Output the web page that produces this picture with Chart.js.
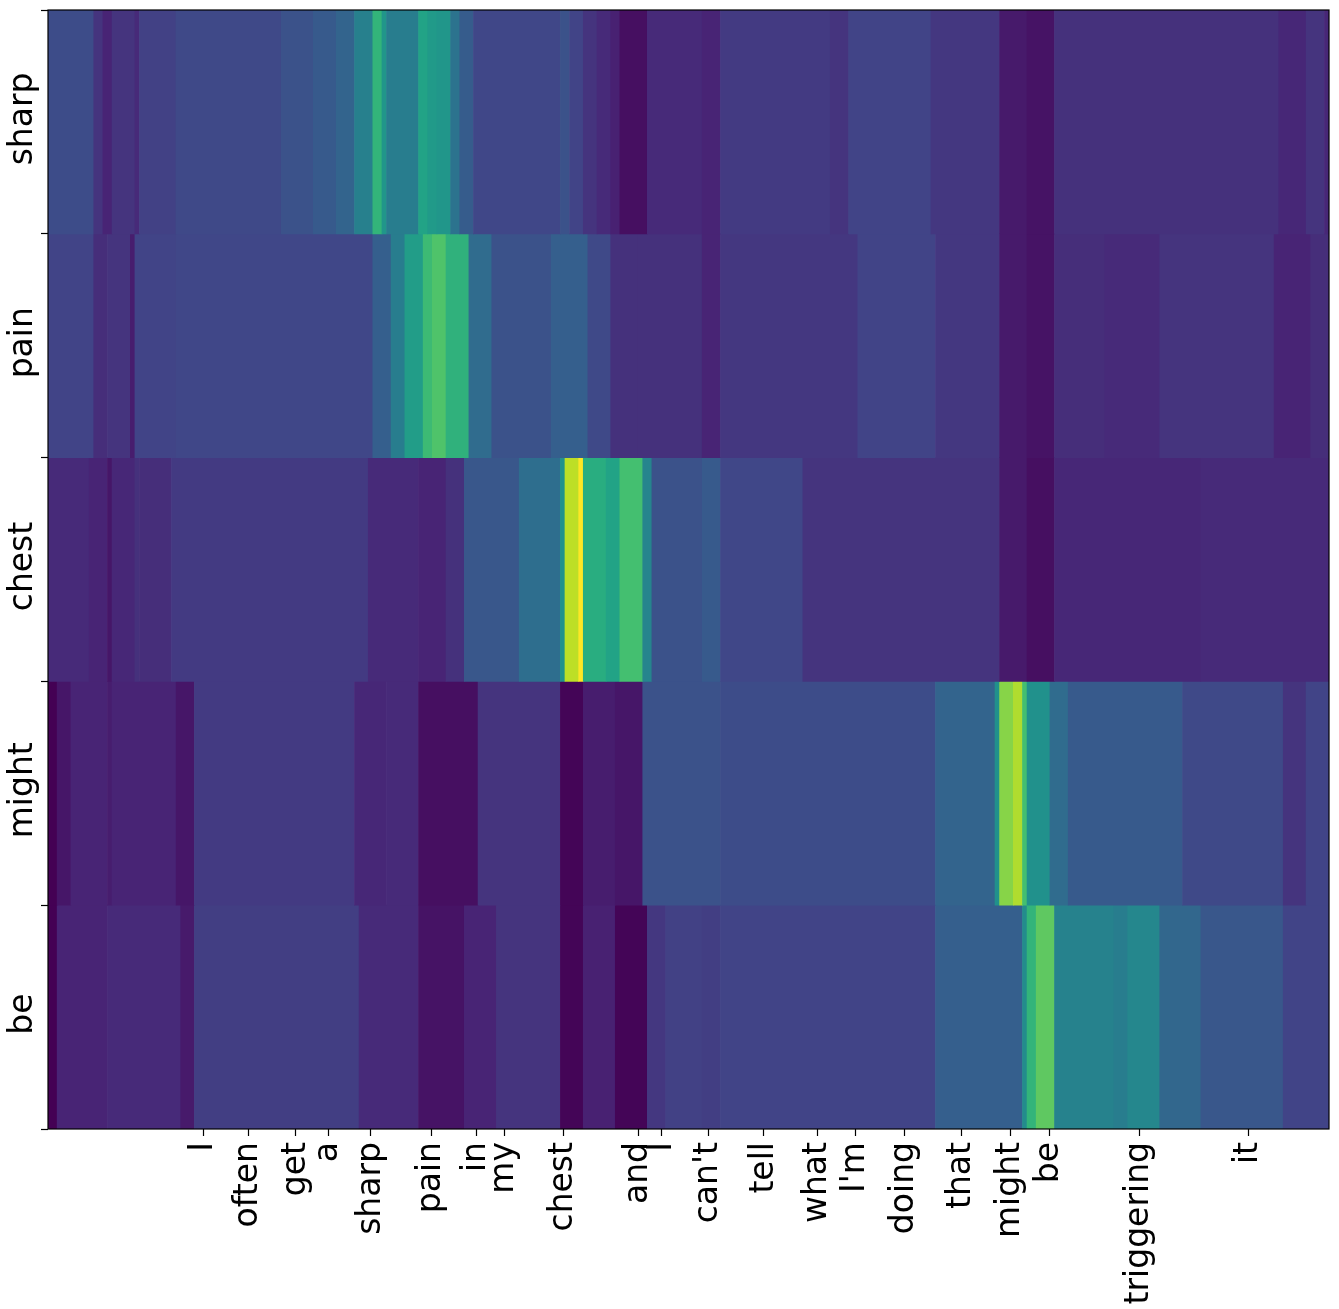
<!DOCTYPE html>
<html>
<head>
<meta charset="utf-8">
<script src="https://cdn.jsdelivr.net/npm/chart.js@4.4.1/dist/chart.umd.min.js"></script>
<style>
body { margin: 0; background: #ffffff; }
</style>
</head>
<body>
<canvas id="heatmap" width="1339" height="1309"></canvas>
<script>
// rows of the attention map, top to bottom
var rowLabels = ["sharp", "pain", "chest", "might", "be"];
var frameCount = 280;

// words of the transcript and the frame they sit at
var wordLabels = ["I", "often", "get", "a", "sharp", "pain", "in", "my", "chest", "and", "I", "can't",
    "tell", "what", "I'm", "doing", "that", "might", "be", "triggering", "it"];
var wordFrames = [33.9, 43.9, 54.2, 61.4, 70.6, 83.9, 93.6, 99.7, 112.6, 129.0, 134.2, 144.3,
    156.5, 168.1, 176.4, 187.3, 199.6, 210.3, 218.8, 238.5, 262.3];

// each row: start frame of a run of equal weight, and that weight
var sharpStart = [0, 10, 12, 14, 19, 20, 28, 51, 58, 63, 67, 71, 73, 74, 81, 83, 85, 88, 90, 93,
    112, 114, 117, 120, 123, 125, 131, 143, 147, 171, 175, 193, 208, 214, 220, 269, 275, 279];
var sharpValue = [0.23, 0.15, 0.10, 0.15, 0.12, 0.19, 0.22, 0.25, 0.28, 0.32, 0.43, 0.65, 0.52, 0.42, 0.58, 0.54, 0.52, 0.38, 0.29, 0.21,
    0.25, 0.20, 0.15, 0.12, 0.09, 0.04, 0.12, 0.10, 0.17, 0.15, 0.20, 0.16, 0.07, 0.05, 0.14, 0.11, 0.15, 0.11];

var painStart = [0, 10, 13, 18, 19, 28, 71, 75, 78, 82, 84, 87, 92, 97, 110, 118, 123, 129, 143, 147,
    177, 194, 208, 214, 220, 231, 243, 268, 276];
var painValue = [0.20, 0.13, 0.15, 0.08, 0.20, 0.21, 0.30, 0.42, 0.55, 0.68, 0.72, 0.64, 0.35, 0.25, 0.30, 0.22, 0.14, 0.14, 0.10, 0.16,
    0.20, 0.16, 0.07, 0.05, 0.13, 0.12, 0.15, 0.10, 0.13];

var chestStart = [0, 9, 13, 14, 19, 20, 27, 70, 81, 87, 91, 103, 112, 113, 116, 117, 122, 125, 130, 132,
    143, 147, 165, 208, 214, 220, 252];
var chestValue = [0.12, 0.10, 0.06, 0.11, 0.14, 0.13, 0.17, 0.12, 0.10, 0.14, 0.27, 0.36, 0.50, 0.90, 1.00, 0.62, 0.58, 0.70, 0.45, 0.25,
    0.28, 0.21, 0.15, 0.07, 0.04, 0.11, 0.12];

var mightStart = [0, 2, 5, 13, 14, 28, 32, 67, 74, 81, 94, 112, 117, 124, 130, 147, 194, 207, 208, 211,
    213, 214, 219, 223, 248, 270, 275];
var mightValue = [0.00, 0.06, 0.10, 0.08, 0.10, 0.06, 0.17, 0.11, 0.12, 0.04, 0.15, 0.01, 0.08, 0.06, 0.25, 0.23, 0.32, 0.50, 0.82, 0.88,
    0.70, 0.50, 0.35, 0.28, 0.22, 0.15, 0.20];

var beStart = [0, 2, 13, 29, 32, 68, 81, 91, 98, 112, 117, 124, 131, 135, 143, 147, 194, 213, 214, 216,
    220, 233, 236, 243, 252, 270];
var beValue = [0.00, 0.10, 0.12, 0.07, 0.18, 0.12, 0.05, 0.10, 0.15, 0.01, 0.09, 0.01, 0.16, 0.19, 0.18, 0.20, 0.30, 0.48, 0.65, 0.75,
    0.44, 0.42, 0.46, 0.33, 0.27, 0.20];

var viridisStops = ["#440154", "#482475", "#414487", "#355f8d", "#2a788e", "#21918c",
    "#22a884", "#44bf70", "#7ad151", "#bddf26", "#fde725"];

function hexToRgb(h)
{
    return [parseInt(h.substr(1, 2), 16), parseInt(h.substr(3, 2), 16), parseInt(h.substr(5, 2), 16)];
}

function viridis(v)
{
    v = Math.max(0, Math.min(1, v));
    var pos = v * (viridisStops.length - 1);
    var i = Math.min(Math.floor(pos), viridisStops.length - 2);
    var t = pos - i;
    var a = hexToRgb(viridisStops[i]);
    var b = hexToRgb(viridisStops[i + 1]);
    var c = a.map(function (x, k) { return Math.round(x + (b[k] - x) * t); });
    return "rgb(" + c[0] + "," + c[1] + "," + c[2] + ")";
}

function rowData(label, starts, values)
{
    var points = [];
    for (var i = 0; i < starts.length; i++)
    {
        var end = (i + 1 < starts.length) ? starts[i + 1] : frameCount;
        points.push({x: [starts[i], end], y: label, v: values[i]});
    }
    return points;
}

var rowSeries = [
    rowData("sharp", sharpStart, sharpValue),
    rowData("pain", painStart, painValue),
    rowData("chest", chestStart, chestValue),
    rowData("might", mightStart, mightValue),
    rowData("be", beStart, beValue)
];

var datasets = rowSeries.map(function (pts, i) {
    return {
        label: rowLabels[i],
        data: pts,
        grouped: false,
        categoryPercentage: 1.0,
        barPercentage: 1.0,
        borderWidth: 0,
        borderSkipped: false,
        backgroundColor: function (ctx) { return ctx.raw ? viridis(ctx.raw.v) : "#000"; }
    };
});

var tickFont = {family: "'DejaVu Sans', sans-serif", size: 33};

// y labels are vertical in the original, Chart.js won't rotate them on a side axis
var rowLabelPlugin = {
    id: "rowLabels",
    afterDraw: function (chart) {
        var ctx = chart.ctx;
        var area = chart.chartArea;
        var yScale = chart.scales.y;
        ctx.save();
        ctx.font = "33px 'DejaVu Sans', sans-serif";
        ctx.fillStyle = "#000";
        ctx.textAlign = "center";
        ctx.textBaseline = "middle";
        rowLabels.forEach(function (lab, i) {
            var y = yScale.getPixelForValue(i) - 3;
            ctx.save();
            ctx.translate(23, y);
            ctx.rotate(-Math.PI / 2);
            ctx.fillText(lab, 0, 0);
            ctx.restore();
        });
        ctx.strokeStyle = "#000";
        ctx.lineWidth = 1.2;
        ctx.strokeRect(area.left, area.top, area.right - area.left, area.bottom - area.top);
        ctx.restore();
    }
};

new Chart(document.getElementById("heatmap"), {
    type: "bar",
    data: {
        labels: rowLabels,
        datasets: datasets
    },
    options: {
        indexAxis: "y",
        responsive: false,
        animation: false,
        devicePixelRatio: 1,
        layout: {
            padding: {top: 10, right: 10, left: 0, bottom: 0}
        },
        scales: {
            x: {
                type: "linear",
                min: 0,
                max: frameCount,
                afterBuildTicks: function (scale) {
                    scale.ticks = wordFrames.map(function (f) { return {value: f}; });
                },
                afterFit: function (scale) { scale.height = 180; },
                ticks: {
                    autoSkip: false,
                    minRotation: 90,
                    maxRotation: 90,
                    padding: 6,
                    color: "#000",
                    font: tickFont,
                    callback: function (value, index) { return wordLabels[index]; }
                },
                grid: {
                    drawOnChartArea: false,
                    drawTicks: true,
                    tickLength: 7,
                    tickWidth: 1.2,
                    tickColor: "#000"
                },
                border: {display: false}
            },
            y: {
                type: "category",
                offset: true,
                afterFit: function (scale) { scale.width = 48; },
                ticks: {display: false},
                grid: {
                    offset: true,
                    drawOnChartArea: false,
                    drawTicks: true,
                    tickLength: 7,
                    tickWidth: 1.2,
                    tickColor: "#000"
                },
                border: {display: false}
            }
        },
        plugins: {
            legend: {display: false},
            tooltip: {enabled: false}
        }
    },
    plugins: [rowLabelPlugin]
});
</script>
</body>
</html>
